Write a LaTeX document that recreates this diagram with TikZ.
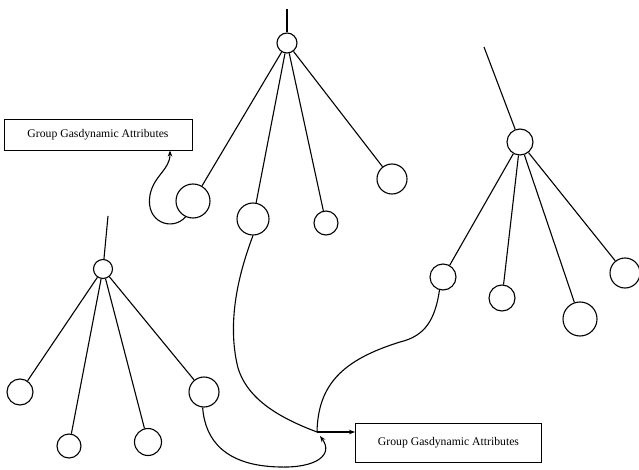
\documentclass[tikz,border=0pt]{standalone}
\usepackage{fontspec}
\setmainfont{Liberation Serif}
\usetikzlibrary{arrows.meta}
\begin{document}
\begin{tikzpicture}[x=1pt,y=-1pt,line width=1.1pt,
  nd/.style={circle,draw,inner sep=0pt,minimum size=#1},
  attr/.style={draw,line width=0.9pt,minimum width=188pt,minimum height=31pt,inner sep=0pt,font=\fontsize{11.7}{13}\selectfont},
  arr/.style={-{Stealth[length=6pt,width=4.5pt]}}]
\useasboundingbox (0,0) rectangle (639,470);
% middle tree
\node[nd=20pt] (m) at (287,43) {};
\node[nd=34pt] (mA) at (193,201) {};
\node[nd=32pt] (mB) at (253,219) {};
\node[nd=24pt] (mC) at (326,223) {};
\node[nd=30pt] (mD) at (392,179) {};
\coordinate (ms) at (287,9);
\draw (ms) -- (m);
\foreach \c in {mA,mB,mC,mD} \draw (m) -- (\c);
% right tree
\node[nd=26pt] (r) at (520,142) {};
\node[nd=26pt] (rE) at (443,277) {};
\node[nd=26pt] (rF) at (502,298) {};
\node[nd=34pt] (rG) at (580,319) {};
\node[nd=30pt] (rH) at (625,273) {};
\coordinate (rs) at (484,47);
\draw (rs) -- (r);
\foreach \c in {rE,rF,rG,rH} \draw (r) -- (\c);
% left tree
\node[nd=19pt] (l) at (103,269) {};
\node[nd=26pt] (lI) at (20,392) {};
\node[nd=24pt] (lJ) at (69,446) {};
\node[nd=27pt] (lK) at (148,442) {};
\node[nd=30pt] (lL) at (204,392) {};
\coordinate (ls) at (108,216);
\draw (ls) -- (l);
\foreach \c in {lI,lJ,lK,lL} \draw (l) -- (\c);
% boxes
\node[attr] (b1) at (98,135) {Group Gasdynamic Attributes};
\node[attr,minimum width=186pt,minimum height=39pt] (b2) at (448.5,443) {Group Gasdynamic Attributes};
% connectors
\coordinate (t1) at (170,150.5);
\draw[arr] (mA.-115) .. controls (172,232) and (145,222) .. (150,195) .. controls (154,175) and (170,170) .. (t1);
\coordinate (j) at (317,432);
\draw (mB.south) .. controls (240,270) and (226,320) .. (238,368) .. controls (248,400) and (280,418) .. (j);
\draw (rE.-105) .. controls (435,320) and (425,336) .. (400,342) .. controls (342,360) and (318,385) .. (j);
\draw[arr] (j) -- (j -| b2.west);
\coordinate (t4) at (320,436);
\draw[arr] (lL.-95) .. controls (205,440) and (225,466) .. (280,467) .. controls (316,468) and (334,455) .. (t4);
\end{tikzpicture}
\end{document}
